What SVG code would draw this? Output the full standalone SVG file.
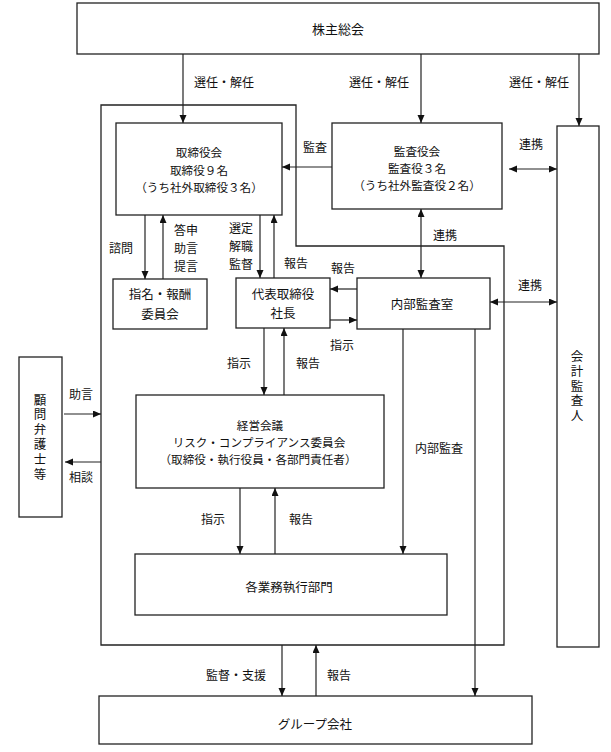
<svg xmlns="http://www.w3.org/2000/svg" width="611" height="752" viewBox="0 0 611 752">
<defs>
<marker id="ah" markerWidth="8" markerHeight="8" refX="8" refY="3.5" orient="auto-start-reverse" markerUnits="userSpaceOnUse"><path d="M0,0 L8,3.5 L0,7 z" fill="#111"/></marker>
<style>
.box{fill:#fff;stroke:#222;stroke-width:1.3}
.frame{fill:none;stroke:#222;stroke-width:1.3}
.ln{fill:none;stroke:#222;stroke-width:1.2}
.a{marker-end:url(#ah)}
.d{marker-start:url(#ah);marker-end:url(#ah)}
text{font-family:"Noto Sans CJK JP","Noto Sans CJK SC",sans-serif;font-size:12.5px;fill:#111;text-anchor:middle;dominant-baseline:central}
.l{font-size:12px}
.m{font-size:11.6px}
.v{writing-mode:vertical-rl;letter-spacing:2.3px}
</style>
</defs>
<rect width="611" height="752" fill="#fff"/>
<g id="frame"><path class="frame" d="M101,105 H296 V246 H504 V645 H101 Z"/></g>
<g id="shareholders"><rect class="box" x="77" y="3" width="522" height="51"/><text x="338" y="28" style="font-size:13px">株主総会</text></g>
<g id="board"><rect class="box" x="116" y="123" width="166" height="92"/><text class="m"><tspan x="199" y="152">取締役会</tspan><tspan x="199" y="169.5">取締役９名</tspan><tspan x="199" y="187">（うち社外取締役３名）</tspan></text></g>
<g id="kansayaku"><rect class="box" x="332" y="123" width="170" height="86"/><text class="m"><tspan x="417" y="150.5">監査役会</tspan><tspan x="417" y="167.5">監査役３名</tspan><tspan x="417" y="184.5">（うち社外監査役２名）</tspan></text></g>
<g id="auditor"><rect class="box" x="557" y="126" width="42" height="521"/><text class="v" x="577" y="387">会計監査人</text></g>
<g id="nomination"><rect class="box" x="113" y="279" width="94" height="50"/><text><tspan x="160" y="293">指名・報酬</tspan><tspan x="160" y="313">委員会</tspan></text></g>
<g id="president"><rect class="box" x="236" y="278" width="94" height="50"/><text><tspan x="283" y="293">代表取締役</tspan><tspan x="283" y="312">社長</tspan></text></g>
<g id="internal-audit"><rect class="box" x="357" y="278" width="133" height="51"/><text x="422" y="303">内部監査室</text></g>
<g id="advisor"><rect class="box" x="19" y="357" width="43" height="160"/><text class="v" x="40" y="438">顧問弁護士等</text></g>
<g id="management"><rect class="box" x="136" y="395" width="248" height="93"/><text class="m"><tspan x="260" y="425">経営会議</tspan><tspan x="259" y="442">リスク・コンプライアンス委員会</tspan><tspan x="258" y="459">（取締役・執行役員・各部門責任者）</tspan></text></g>
<g id="divisions"><rect class="box" x="135" y="554" width="312" height="61"/><text x="289" y="586">各業務執行部門</text></g>
<g id="group"><rect class="box" x="99" y="696" width="433" height="48"/><text x="315" y="723">グループ会社</text></g>
<g id="connectors">
<path class="ln a" d="M183,54 V123"/>
<path class="ln a" d="M421,54 V123"/>
<path class="ln a" d="M579,54 V126"/>
<path class="ln a" d="M332,167 H282"/>
<path class="ln d" d="M509,169 H557"/>
<path class="ln d" d="M421,209 V278"/>
<path class="ln a" d="M145,215 V279"/>
<path class="ln a" d="M163,279 V215"/>
<path class="ln a" d="M260,215 V278"/>
<path class="ln a" d="M274,278 V215"/>
<path class="ln a" d="M357,289 H330"/>
<path class="ln a" d="M330,320 H357"/>
<path class="ln d" d="M490,302 H557"/>
<path class="ln a" d="M64,414 H101"/>
<path class="ln a" d="M101,462 H65"/>
<path class="ln a" d="M264,328 V395"/>
<path class="ln a" d="M284,395 V328"/>
<path class="ln a" d="M240,488 V554"/>
<path class="ln a" d="M275,554 V488"/>
<path class="ln a" d="M403,329 V554"/>
<path class="ln a" d="M475,329 V696"/>
<path class="ln a" d="M282,645 V696"/>
<path class="ln a" d="M316,696 V645"/>
</g>
<g id="labels">
<text class="l" x="224" y="81">選任・解任</text>
<text class="l" x="379" y="81">選任・解任</text>
<text class="l" x="539" y="81">選任・解任</text>
<text class="l" x="315" y="146">監査</text>
<text class="l" x="531" y="143">連携</text>
<text class="l" x="445" y="234">連携</text>
<text class="l" x="530" y="284">連携</text>
<text class="l" x="121" y="247">諮問</text>
<text class="l"><tspan x="186" y="229">答申</tspan><tspan x="186" y="247">助言</tspan><tspan x="186" y="264.5">提言</tspan></text>
<text class="l"><tspan x="241" y="227">選定</tspan><tspan x="241" y="245">解職</tspan><tspan x="241" y="263">監督</tspan></text>
<text class="l" x="296" y="262">報告</text>
<text class="l" x="343" y="267">報告</text>
<text class="l" x="342" y="344">指示</text>
<text class="l" x="239" y="362">指示</text>
<text class="l" x="308" y="362">報告</text>
<text class="l" x="81" y="393">助言</text>
<text class="l" x="81" y="476">相談</text>
<text class="l" x="439" y="447">内部監査</text>
<text class="l" x="213" y="518">指示</text>
<text class="l" x="301" y="518">報告</text>
<text class="l" x="236" y="674">監督・支援</text>
<text class="l" x="339" y="674">報告</text>
</g>
</svg>
